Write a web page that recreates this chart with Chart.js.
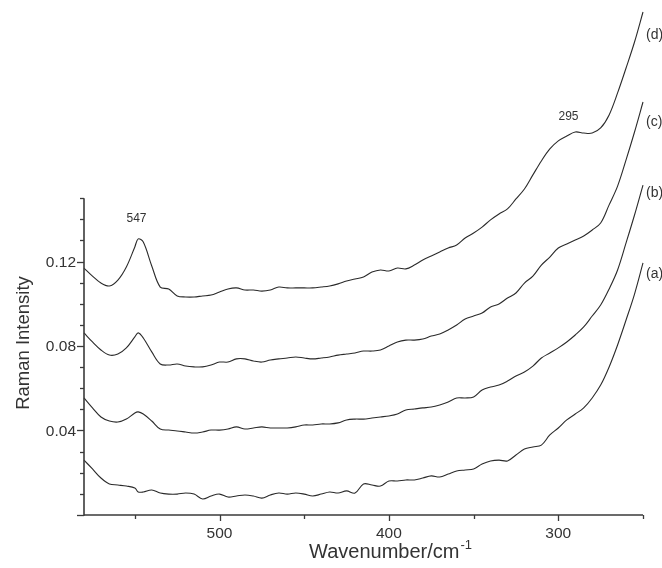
<!DOCTYPE html>
<html lang="en">
<head>
<meta charset="UTF-8">
<title>Raman spectra</title>
<script src="https://cdn.jsdelivr.net/npm/chart.js"></script>
<style>
  html, body { margin: 0; padding: 0; background: #fff; }
</style>
</head>
<body>
<canvas id="ramanChart" width="662" height="568"></canvas>
<script>
// wavenumber (cm-1) of each sample
const wavenumbers = [580,575,570,565,560,555,550,548,545,540,535,530,525,520,515,510,505,500,495,490,
  485,480,475,470,465,460,455,450,445,440,435,430,425,420,415,410,405,400,395,390,
  385,380,375,370,365,360,355,350,345,340,335,330,325,320,315,310,305,300,295,290,
  285,280,275,270,265,260,255,250];

// spectrum (a), bottom
const specA = [0.0260,0.0218,0.0175,0.0147,0.0142,0.0137,0.0128,0.0109,0.0109,0.0118,
  0.0104,0.0099,0.0099,0.0104,0.0099,0.0076,0.0090,0.0099,0.0085,0.0090,
  0.0095,0.0090,0.0080,0.0095,0.0104,0.0099,0.0104,0.0099,0.0090,0.0099,
  0.0109,0.0104,0.0114,0.0104,0.0147,0.0142,0.0137,0.0161,0.0161,0.0166,
  0.0166,0.0175,0.0185,0.0180,0.0194,0.0208,0.0213,0.0218,0.0241,0.0256,
  0.0260,0.0256,0.0284,0.0312,0.0322,0.0331,0.0379,0.0412,0.0450,0.0478,
  0.0507,0.0554,0.0615,0.0701,0.0805,0.0923,0.1046,0.1193];

// spectrum (b)
const specB = [0.0554,0.0507,0.0464,0.0445,0.0440,0.0454,0.0483,0.0488,0.0478,0.0445,
  0.0407,0.0402,0.0398,0.0393,0.0388,0.0393,0.0402,0.0402,0.0407,0.0417,
  0.0407,0.0412,0.0417,0.0412,0.0412,0.0412,0.0417,0.0426,0.0426,0.0431,
  0.0431,0.0436,0.0450,0.0454,0.0454,0.0459,0.0464,0.0469,0.0478,0.0497,
  0.0502,0.0507,0.0511,0.0521,0.0535,0.0554,0.0554,0.0559,0.0592,0.0606,
  0.0615,0.0634,0.0658,0.0677,0.0705,0.0743,0.0767,0.0791,0.0819,0.0852,
  0.0890,0.0942,0.0994,0.1070,0.1160,0.1288,0.1420,0.1562];

// spectrum (c)
const specC = [0.0862,0.0819,0.0781,0.0757,0.0762,0.0791,0.0843,0.0862,0.0838,0.0772,
  0.0715,0.0710,0.0715,0.0705,0.0701,0.0701,0.0710,0.0724,0.0724,0.0739,
  0.0739,0.0729,0.0724,0.0734,0.0739,0.0743,0.0748,0.0743,0.0739,0.0743,
  0.0748,0.0757,0.0762,0.0767,0.0776,0.0776,0.0781,0.0800,0.0819,0.0828,
  0.0828,0.0833,0.0847,0.0857,0.0876,0.0899,0.0928,0.0942,0.0956,0.0985,
  0.0999,0.1027,0.1051,0.1098,0.1131,0.1183,0.1221,0.1264,0.1283,0.1302,
  0.1321,0.1349,0.1382,0.1468,0.1557,0.1681,0.1813,0.1955];

// spectrum (d), top
const specD = [0.1169,0.1131,0.1098,0.1084,0.1112,0.1174,0.1269,0.1307,0.1292,0.1179,
  0.1079,0.1070,0.1037,0.1032,0.1032,0.1037,0.1041,0.1056,0.1070,0.1075,
  0.1065,0.1065,0.1060,0.1065,0.1079,0.1075,0.1075,0.1075,0.1075,0.1079,
  0.1084,0.1094,0.1108,0.1117,0.1127,0.1150,0.1160,0.1155,0.1169,0.1165,
  0.1183,0.1207,0.1226,0.1245,0.1264,0.1278,0.1311,0.1335,0.1363,0.1397,
  0.1425,0.1449,0.1496,0.1543,0.1610,0.1676,0.1733,0.1771,0.1794,0.1813,
  0.1808,0.1808,0.1832,0.1894,0.1998,0.2116,0.2239,0.2381];

const seriesNames = ['(a)', '(b)', '(c)', '(d)'];

// axis ticks
const xMajorTicks = [500, 400, 300];
const xMinorTicks = [550, 450, 350, 250];
const yMajorTicks = [0, 0.04, 0.08, 0.12];
const yMinorTicks = [0.01, 0.02, 0.03, 0.05, 0.06, 0.07, 0.09, 0.10, 0.11, 0.13, 0.14, 0.15];
const yTickLabels = ['', '0.04', '0.08', '0.12'];
const yAxisTop = 0.15;

// peak annotations: [text, wavenumber, intensity]
const peakNotes = [['547', 549, 0.1405], ['295', 294, 0.1884]];
// y of each series label at the right edge
const labelY = [0.1141, 0.1524, 0.1860, 0.2272];

function toPoints(vals) {
  return wavenumbers.map(function (w, i) { return { x: w, y: vals[i] }; });
}

const lineColor = '#2a2a2a';
const inkColor = '#333333';

const axesPlugin = {
  id: 'originAxes',
  afterDraw: function (chart) {
    const ctx = chart.ctx;
    const xs = chart.scales.x;
    const ys = chart.scales.y;
    const area = chart.chartArea;
    const y0 = ys.getPixelForValue(0);
    const xl = area.left;

    ctx.save();
    ctx.strokeStyle = '#3a3a3a';
    ctx.lineWidth = 1.6;
    ctx.lineCap = 'butt';

    // y axis line (only up to 0.15)
    ctx.beginPath();
    ctx.moveTo(xl, y0 + 0.8);
    ctx.lineTo(xl, ys.getPixelForValue(yAxisTop));
    ctx.stroke();
    // x axis line
    ctx.beginPath();
    ctx.moveTo(xl, y0);
    ctx.lineTo(area.right, y0);
    ctx.stroke();

    ctx.lineWidth = 1.3;
    yMajorTicks.forEach(function (v) {
      const p = Math.round(ys.getPixelForValue(v)) + 0.5;
      ctx.beginPath(); ctx.moveTo(xl - 7, p); ctx.lineTo(xl, p); ctx.stroke();
    });
    yMinorTicks.forEach(function (v) {
      const p = Math.round(ys.getPixelForValue(v)) + 0.5;
      ctx.beginPath(); ctx.moveTo(xl - 4, p); ctx.lineTo(xl, p); ctx.stroke();
    });
    xMajorTicks.forEach(function (v) {
      const p = Math.round(xs.getPixelForValue(v)) + 0.5;
      ctx.beginPath(); ctx.moveTo(p, y0); ctx.lineTo(p, y0 + 6); ctx.stroke();
    });
    xMinorTicks.forEach(function (v) {
      const p = Math.round(xs.getPixelForValue(v)) + 0.5;
      ctx.beginPath(); ctx.moveTo(p, y0); ctx.lineTo(p, y0 + 4); ctx.stroke();
    });

    // tick labels
    ctx.fillStyle = inkColor;
    ctx.font = '15.5px "Liberation Sans", Arial, sans-serif';
    ctx.textAlign = 'right';
    ctx.textBaseline = 'middle';
    yMajorTicks.forEach(function (v, i) {
      if (yTickLabels[i]) ctx.fillText(yTickLabels[i], xl - 8, ys.getPixelForValue(v) + 1);
    });
    ctx.textAlign = 'center';
    ctx.textBaseline = 'alphabetic';
    xMajorTicks.forEach(function (v) {
      ctx.fillText(String(v), xs.getPixelForValue(v), y0 + 23);
    });

    // axis titles
    ctx.save();
    ctx.font = '18.5px "Liberation Sans", Arial, sans-serif';
    ctx.translate(29, 343);
    ctx.rotate(-Math.PI / 2);
    ctx.textAlign = 'center';
    ctx.fillText('Raman Intensity', 0, 0);
    ctx.restore();

    ctx.textAlign = 'left';
    ctx.font = '20px "Liberation Sans", Arial, sans-serif';
    const main = 'Wavenumber/cm';
    const wMain = ctx.measureText(main).width;
    ctx.font = '13px "Liberation Sans", Arial, sans-serif';
    const wSup = ctx.measureText('-1').width;
    const tx = 390 - (wMain + wSup) / 2;
    ctx.font = '20px "Liberation Sans", Arial, sans-serif';
    ctx.fillText(main, tx, 558);
    ctx.font = '13px "Liberation Sans", Arial, sans-serif';
    ctx.fillText('-1', tx + wMain + 1, 549);

    // peak notes
    ctx.font = '12px "Liberation Sans", Arial, sans-serif';
    ctx.textAlign = 'center';
    ctx.textBaseline = 'middle';
    peakNotes.forEach(function (n) {
      ctx.fillText(n[0], xs.getPixelForValue(n[1]), ys.getPixelForValue(n[2]));
    });

    // series labels at the right, cut by the page edge like the figure
    ctx.font = '14px "Liberation Sans", Arial, sans-serif';
    ctx.textAlign = 'left';
    seriesNames.forEach(function (name, i) {
      ctx.fillText(name, area.right + 3, ys.getPixelForValue(labelY[i]));
    });
    ctx.restore();
  }
};

function lineSet(label, vals) {
  return {
    label: label,
    data: toPoints(vals),
    borderColor: lineColor,
    borderWidth: 1.1,
    pointRadius: 0,
    fill: false,
    tension: 0.35,
    clip: false
  };
}

new Chart(document.getElementById('ramanChart'), {
  type: 'line',
  data: {
    datasets: [
      lineSet(seriesNames[0], specA),
      lineSet(seriesNames[1], specB),
      lineSet(seriesNames[2], specC),
      lineSet(seriesNames[3], specD)
    ]
  },
  options: {
    responsive: false,
    devicePixelRatio: 1,
    animation: false,
    layout: { padding: { left: 84, right: 19, top: 8, bottom: 53 } },
    plugins: { legend: { display: false }, tooltip: { enabled: false } },
    scales: {
      x: { type: 'linear', reverse: true, min: 250, max: 580, display: false },
      y: { type: 'linear', min: 0, max: 0.24, display: false }
    }
  },
  plugins: [axesPlugin]
});
</script>
</body>
</html>
